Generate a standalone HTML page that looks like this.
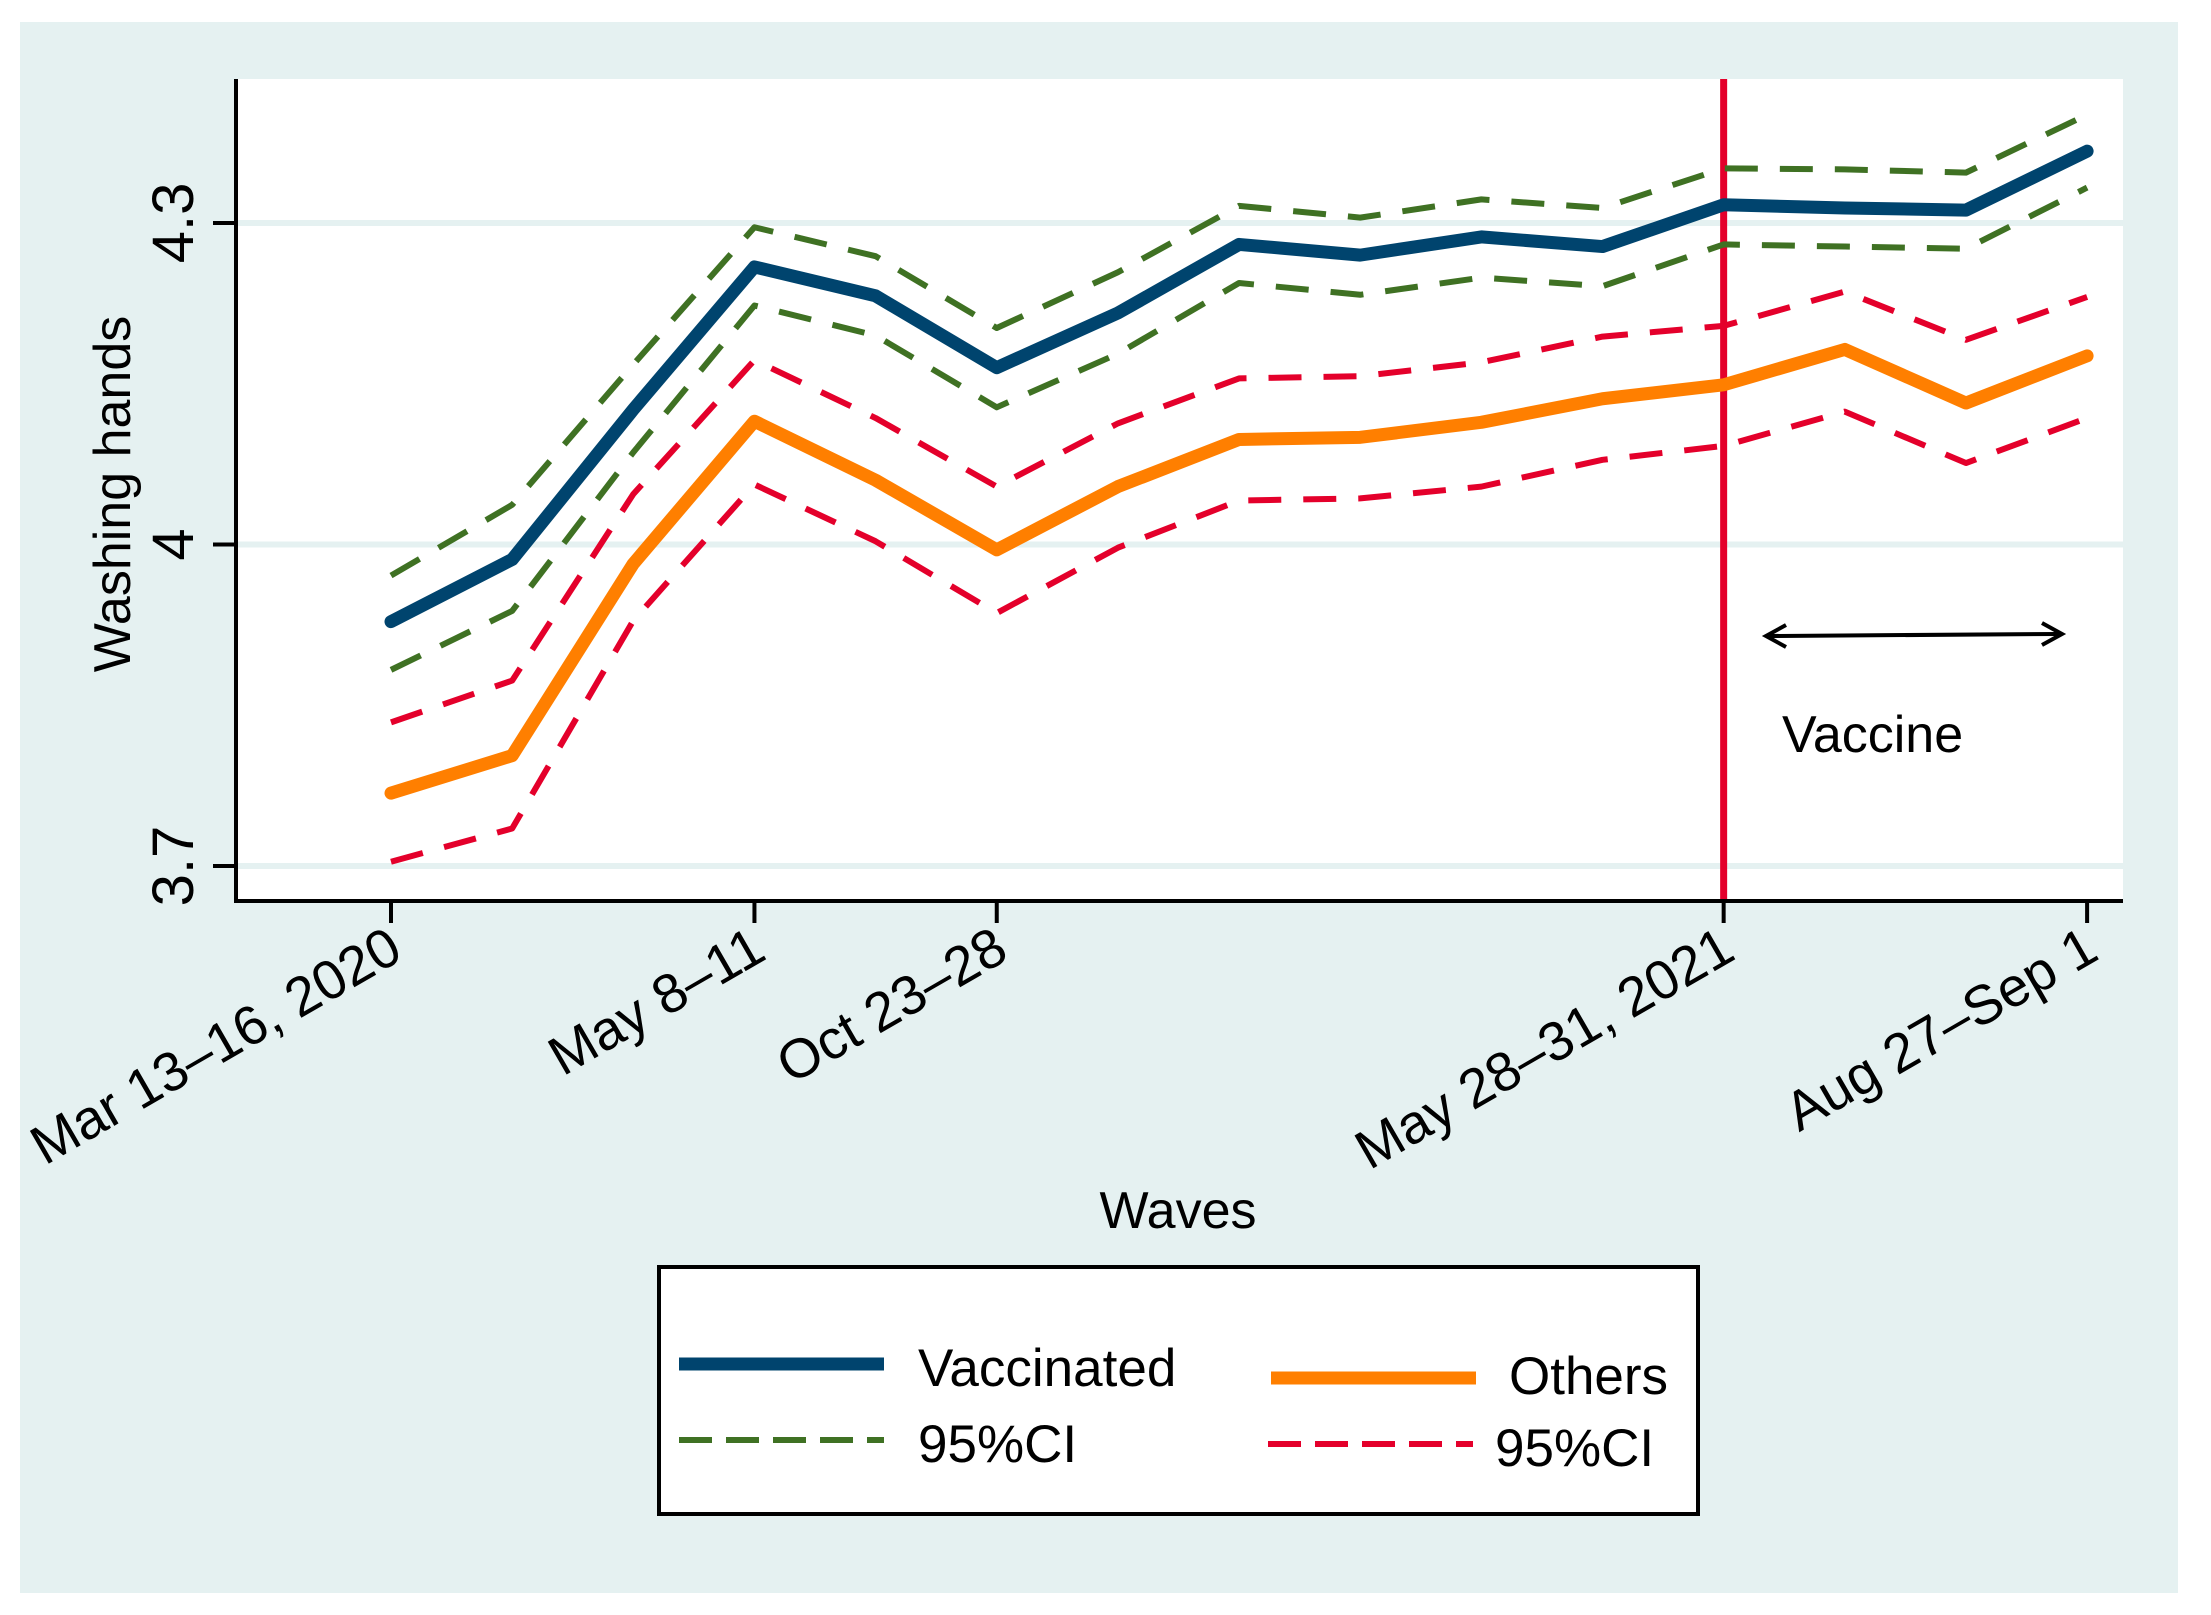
<!DOCTYPE html>
<html><head><meta charset="utf-8"><style>
html,body{margin:0;padding:0;background:#fff;}
svg{display:block;font-family:"Liberation Sans",Arial,sans-serif;}
</style></head><body>
<svg id="chart" width="2211" height="1615" viewBox="0 0 2211 1615" xmlns="http://www.w3.org/2000/svg">
<rect x="0" y="0" width="2211" height="1615" fill="#ffffff"/>
<rect x="20" y="22" width="2158" height="1571" fill="#e5f1f1"/>
<rect x="236" y="79" width="1887" height="822" fill="#ffffff"/>
<g id="grid"></g>
<g id="series"></g>
<g id="axes"></g>
<text transform="translate(130,494) rotate(-90)" text-anchor="middle" font-size="52">Washing hands</text>
<text x="1178" y="1228" text-anchor="middle" font-size="52">Waves</text>
<g>
<line x1="1770" y1="636" x2="2058" y2="634" stroke="#000" stroke-width="4"/>
<path d="M1786,625 L1766,636 L1786,647" fill="none" stroke="#000" stroke-width="4"/>
<path d="M2042,623 L2062,634 L2042,645" fill="none" stroke="#000" stroke-width="4"/>
<text x="1782" y="752" font-size="52">Vaccine</text>
</g>
<g>
<rect x="659" y="1267" width="1039" height="247" fill="#fff" stroke="#000" stroke-width="4"/>
<line x1="679" y1="1364" x2="884" y2="1364" stroke="#00446e" stroke-width="13"/>
<text x="918" y="1386" font-size="53">Vaccinated</text>
<line x1="679" y1="1440" x2="884" y2="1440" stroke="#3f7123" stroke-width="6" stroke-dasharray="33,14"/>
<text x="918" y="1462" font-size="53">95%CI</text>
<line x1="1271" y1="1378" x2="1476" y2="1378" stroke="#ff7f00" stroke-width="13"/>
<text x="1509" y="1394" font-size="53">Others</text>
<line x1="1268" y1="1444" x2="1473" y2="1444" stroke="#e4002b" stroke-width="6" stroke-dasharray="33,14"/>
<text x="1495" y="1466" font-size="53">95%CI</text>
</g>
</svg>
<script>
const waves = ["Mar 13–16, 2020","w2","w3","May 8–11","w5","Oct 23–28","w7","w8","w9","w10","w11","May 28–31, 2021","w13","w14","Aug 27–Sep 1"];
const labeledIdx = [0,3,5,11,14];
const vaccinated = [3.928,3.986,4.126,4.259,4.232,4.165,4.216,4.280,4.270,4.287,4.278,4.317,4.314,4.312,4.367];
const vaccUpper = [3.971,4.037,4.168,4.296,4.269,4.202,4.254,4.316,4.305,4.322,4.314,4.351,4.350,4.347,4.401];
const vaccLower = [3.883,3.938,4.086,4.223,4.195,4.128,4.178,4.244,4.233,4.249,4.241,4.280,4.278,4.276,4.333];
const others = [3.768,3.803,3.982,4.115,4.060,3.995,4.054,4.098,4.100,4.114,4.136,4.149,4.182,4.132,4.176];
const othUpper = [3.834,3.873,4.047,4.172,4.118,4.054,4.113,4.155,4.157,4.170,4.194,4.204,4.236,4.191,4.231];
const othLower = [3.704,3.735,3.929,4.056,4.003,3.936,3.997,4.041,4.043,4.054,4.079,4.092,4.124,4.076,4.118];
const yTicks = [3.7,4,4.3];
const yTickLabels = ["3.7","4","4.3"];
const vaccineWave = 11;

const NS="http://www.w3.org/2000/svg";
function xs(i){return 391+i*121.15;}
function ys(v){return 866-(v-3.7)*1071.7;}
function mk(tag,attrs,parent){const e=document.createElementNS(NS,tag);for(const k in attrs)e.setAttribute(k,attrs[k]);parent.appendChild(e);return e;}
const grid=document.getElementById('grid'), series=document.getElementById('series'), axes=document.getElementById('axes');
yTicks.forEach((t,i)=>{
  const g=mk('line',{x1:236,x2:2123,y1:ys(t),y2:ys(t),stroke:'#e5f1f1','stroke-width':6},grid);
  
  
  const tk=mk('line',{x1:213,x2:236,y1:ys(t),y2:ys(t),stroke:'#000','stroke-width':4},axes);
  
  
  const tl=mk('text',{transform:`translate(193,${ys(t)}) rotate(-90)`,'text-anchor':'middle','font-size':58},axes);
  tl.textContent=yTickLabels[i];
  
  
});
const vl=mk('line',{x1:xs(vaccineWave),x2:xs(vaccineWave),y1:79,y2:901,stroke:'#e4002b','stroke-width':7},series);


function poly(arr,color,w,dash,name){
  const p=mk('polyline',{points:arr.map((v,i)=>xs(i)+','+ys(v)).join(' '),fill:'none',stroke:color,'stroke-width':w,'stroke-linejoin':'round','stroke-linecap':dash?'butt':'round'},series);
  if(dash)p.setAttribute('stroke-dasharray',dash);
  
  
}
poly(vaccUpper,'#3f7123',6,'33,22','vaccinated-ci-upper');
poly(vaccLower,'#3f7123',6,'33,22','vaccinated-ci-lower');
poly(othUpper,'#e4002b',6,'33,22','others-ci-upper');
poly(othLower,'#e4002b',6,'33,22','others-ci-lower');
poly(others,'#ff7f00',13,null,'others-line');
poly(vaccinated,'#00446e',13,null,'vaccinated-line');
const ax=mk('path',{d:'M236,79 L236,901 L2123,901',fill:'none',stroke:'#000','stroke-width':4},axes);


labeledIdx.forEach(i=>{
  const tk=mk('line',{x1:xs(i),x2:xs(i),y1:901,y2:923,stroke:'#000','stroke-width':4},axes);
  
  
  const tl=mk('text',{transform:`translate(${xs(i)+14},${958}) rotate(-30)`,'text-anchor':'end','font-size':55},axes);
  tl.textContent=waves[i];
  
  
});
</script>
</body></html>
